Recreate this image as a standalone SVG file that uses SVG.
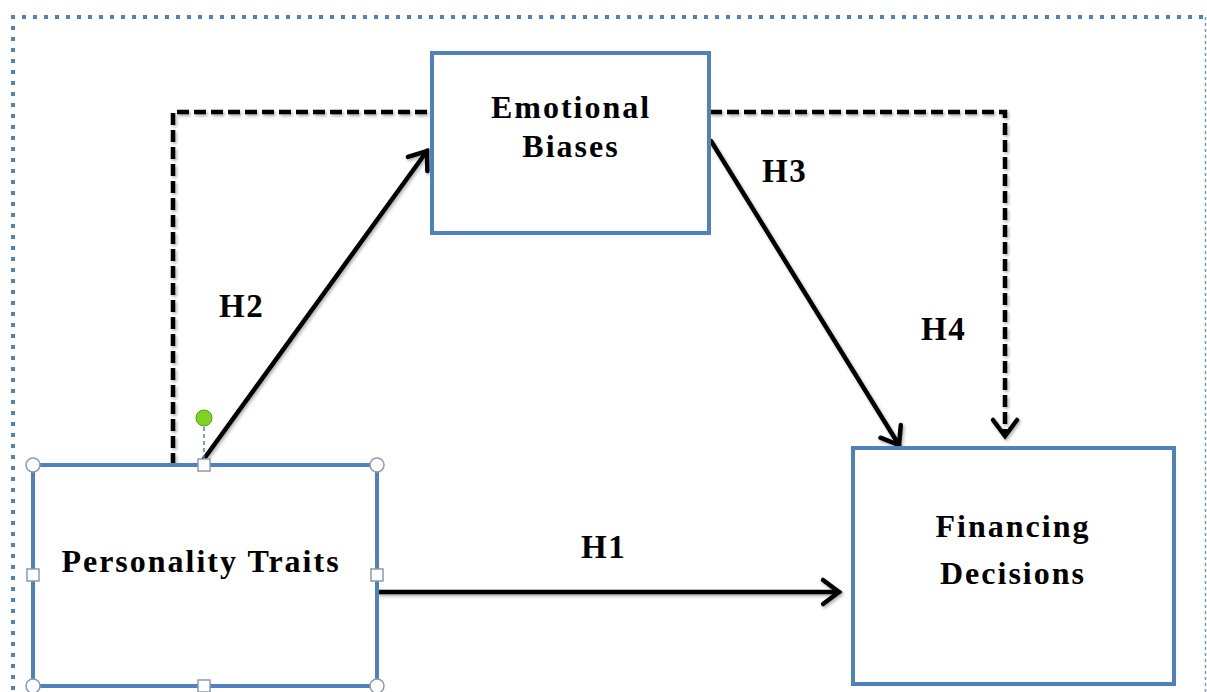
<svg xmlns="http://www.w3.org/2000/svg" width="1207" height="692" viewBox="0 0 1207 692">
<style>
.box{fill:#fff;stroke:#4F81BD;stroke-width:4}
.lbl{font-family:"Liberation Serif","Times New Roman",serif;font-weight:bold;font-size:32px;fill:#000;text-anchor:middle;letter-spacing:2px}
.h{font-family:"Liberation Serif","Times New Roman",serif;font-weight:bold;font-size:33px;fill:#000;letter-spacing:1.5px}
.solid{fill:none;stroke:#000;stroke-width:4.5;stroke-linecap:round}
.dash{fill:none;stroke:#000;stroke-width:4.5;stroke-dasharray:12 5}
.hc{fill:#fff;stroke:#8c9bb0;stroke-width:1.5}
</style>
<defs>
<marker id="arr" markerUnits="userSpaceOnUse" markerWidth="40" markerHeight="40" refX="22" refY="16" orient="auto" viewBox="0 0 40 32">
<path d="M6,4 L22,16 L6,28" fill="none" stroke="#000" stroke-width="4.5" stroke-linecap="round" stroke-linejoin="miter"/>
</marker>
<filter id="sh" x="-10%" y="-10%" width="120%" height="120%">
<feDropShadow dx="1.5" dy="2" stdDeviation="1.5" flood-color="#000" flood-opacity="0.3"/>
</filter>
</defs>
<g id="frame">
<path d="M13,690 L13,17 L1205,17" fill="none" stroke="#4F81BD" stroke-width="4" stroke-dasharray="4 7"/>
<line x1="1205.5" y1="17" x2="1205.5" y2="692" stroke="#4F81BD" stroke-width="1.5" stroke-dasharray="3 3" opacity="0.8"/>
</g>
<g id="connectors" filter="url(#sh)">
<path class="dash" d="M173,465 L173,112 L432,112"/>
<path class="dash" d="M710,112 L1005,112 L1005,436" marker-end="url(#arr)"/>
<line class="solid" x1="201" y1="463" x2="427" y2="151" marker-end="url(#arr)"/>
<line class="solid" x1="711" y1="141" x2="899" y2="445" marker-end="url(#arr)"/>
<line class="solid" x1="379" y1="592" x2="839" y2="592" marker-end="url(#arr)"/>
</g>
<g id="emotional-biases">
<rect class="box" x="432" y="53" width="277" height="180"/>
<text class="lbl" x="571" y="118">Emotional</text>
<text class="lbl" x="571" y="157">Biases</text>
</g>
<g id="financing-decisions">
<rect class="box" x="853" y="448" width="321" height="236"/>
<text class="lbl" x="1013" y="537">Financing</text>
<text class="lbl" x="1013" y="584">Decisions</text>
</g>
<g id="personality-traits">
<rect class="box" x="33" y="465" width="344" height="221"/>
<text class="lbl" x="201" y="572">Personality Traits</text>
<line x1="204" y1="427" x2="204" y2="460" stroke="#4F81BD" stroke-width="1.5" stroke-dasharray="4 3"/>
<circle cx="204" cy="418" r="8" fill="#7ed321" stroke="#5a9a2a" stroke-width="1"/>
<circle class="hc" cx="33" cy="465" r="7"/>
<circle class="hc" cx="377" cy="465" r="7"/>
<circle class="hc" cx="33" cy="686" r="7"/>
<circle class="hc" cx="377" cy="686" r="7"/>
<rect class="hc" x="198" y="459" width="12" height="12"/>
<rect class="hc" x="27" y="569" width="12" height="12"/>
<rect class="hc" x="371" y="569" width="12" height="12"/>
<rect class="hc" x="198" y="680" width="12" height="12"/>
</g>
<g id="labels">
<text class="h" x="219" y="317">H2</text>
<text class="h" x="762" y="182">H3</text>
<text class="h" x="921" y="340">H4</text>
<text class="h" x="581" y="558">H1</text>
</g>
</svg>
